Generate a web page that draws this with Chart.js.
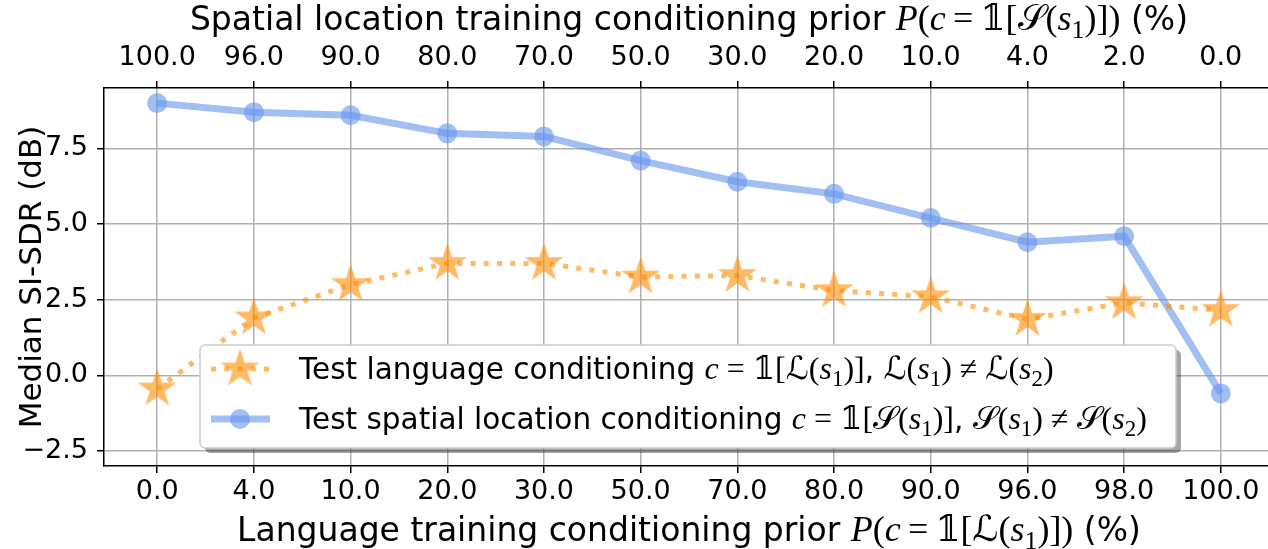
<!DOCTYPE html>
<html>
<head>
<meta charset="utf-8">
<script src="https://cdn.jsdelivr.net/npm/chart.js@4.4.1/dist/chart.umd.min.js"></script>
<style>
html, body { margin: 0; padding: 0; background: #fff; overflow: hidden; }
canvas { display: block; }
</style>
</head>
<body>
<canvas id="chart" width="1274" height="549"></canvas>
<script>
// training priors (bottom axis: language, top axis: spatial location)
const bottomLabels = ['0.0', '4.0', '10.0', '20.0', '30.0', '50.0', '70.0', '80.0', '90.0', '96.0', '98.0', '100.0']
const topLabels = ['100.0', '96.0', '90.0', '80.0', '70.0', '50.0', '30.0', '20.0', '10.0', '4.0', '2.0', '0.0']
// median SI-SDR (dB)
const langSdr = [-0.45, 1.9, 3.0, 3.7, 3.7, 3.25, 3.3, 2.8, 2.6, 1.85, 2.4, 2.15]
const spatialSdr = [9.0, 8.7, 8.6, 8.0, 7.9, 7.1, 6.4, 6.0, 5.2, 4.4, 4.6, -0.6]
const yTicks = [-2.5, 0, 2.5, 5, 7.5]

const orange = 'rgba(255, 140, 0, 0.6)'
const blue = 'rgba(100, 149, 237, 0.6)'
const sans = "'DejaVu Sans'"
const serif = "'Liberation Serif', 'DejaVu Serif', 'DejaVu Sans'"

Chart.defaults.font.family = sans
Chart.defaults.color = '#000'

// pieces of mixed text: plain sans, italic math, upright math, subscript
function txt(t, s){ return {t: t, font: s + 'px ' + sans, dy: 0} }
function it(t, s){ return {t: t, font: 'italic ' + Math.round(s*1.1) + 'px ' + serif, dy: 0} }
function up(t, s){ return {t: t, font: Math.round(s*1.1) + 'px ' + serif, dy: 0} }
function sub(t, s){ return {t: t, font: Math.round(s*0.78) + 'px ' + serif, dy: s*0.25} }
function setOf(letter, idx, s){
    return [up(letter, s), up('(', s), it('s', s), sub(idx, s), up(')', s)]
}
function indicator(letter, s){
    return [up('𝟙', s), up('[', s)].concat(setOf(letter, '1', s), [up(']', s)])
}
function prior(letter, s){
    return [it('P', s), up('(', s), it('c', s), up('\u2009=\u2009', s)].concat(indicator(letter, s), [up(')', s)])
}

const titleSize = 33
const topTitle = [txt('Spatial location training conditioning prior ', titleSize)].concat(prior('𝒮', titleSize), [txt(' (%)', titleSize)])
const bottomTitle = [txt('Language training conditioning prior ', titleSize)].concat(prior('ℒ', titleSize), [txt(' (%)', titleSize)])

const legSize = 29.5
const legendRows = [
    [txt('Test language conditioning ', legSize), it('c', legSize), up(' = ', legSize)]
        .concat(indicator('ℒ', legSize), [txt(', ', legSize)], setOf('ℒ', '1', legSize), [up(' ≠ ', legSize)], setOf('ℒ', '2', legSize)),
    [txt('Test spatial location conditioning ', legSize), it('c', legSize), up(' = ', legSize)]
        .concat(indicator('𝒮', legSize), [txt(', ', legSize)], setOf('𝒮', '1', legSize), [up(' ≠ ', legSize)], setOf('𝒮', '2', legSize))
]

function drawRich(ctx, segs, x, y, centered){
    ctx.save()
    ctx.textBaseline = 'alphabetic'
    ctx.textAlign = 'left'
    ctx.fillStyle = '#000'
    let w = 0
    for(const s of segs){ ctx.font = s.font; w += ctx.measureText(s.t).width }
    let cx = centered ? x - w/2 : x
    for(const s of segs){
        ctx.font = s.font
        ctx.fillText(s.t, cx, y + s.dy)
        cx += ctx.measureText(s.t).width
    }
    ctx.restore()
}

function makeStar(r, color){
    const c = document.createElement('canvas')
    c.width = c.height = Math.ceil(2*r + 2)
    const g = c.getContext('2d')
    const m = c.width/2
    g.beginPath()
    for(let k = 0; k < 10; k++){
        const rad = k%2 ? r*0.381966 : r
        const a = -Math.PI/2 + k*Math.PI/5
        g.lineTo(m + rad*Math.cos(a), m + rad*Math.sin(a))
    }
    g.closePath()
    g.fillStyle = color
    g.fill()
    return c
}
const star = makeStar(20.5, orange)

function roundRect(ctx, x, y, w, h, r){
    ctx.beginPath()
    ctx.moveTo(x + r, y)
    ctx.arcTo(x + w, y, x + w, y + h, r)
    ctx.arcTo(x + w, y + h, x, y + h, r)
    ctx.arcTo(x, y + h, x, y, r)
    ctx.arcTo(x, y, x + w, y, r)
    ctx.closePath()
}

const decorations = {
    id: 'decorations',
    afterDraw(chart){
        const ctx = chart.ctx
        const area = chart.chartArea
        const cx = (area.left + area.right)/2
        drawRich(ctx, topTitle, cx, 30, true)
        drawRich(ctx, bottomTitle, cx, 541, true)

        // legend
        const lx = 200, ly = 345, lw = 976, lh = 103
        ctx.save()
        ctx.fillStyle = 'rgba(0, 0, 0, 0.35)'
        roundRect(ctx, lx + 5, ly + 5, lw, lh, 5)
        ctx.fill()
        ctx.fillStyle = '#ffffff'
        roundRect(ctx, lx, ly, lw, lh, 5)
        ctx.fill()
        ctx.strokeStyle = '#cccccc'
        ctx.lineWidth = 1.5
        ctx.stroke()

        const rows = [369, 419]
        // row 1: dotted line + star
        ctx.strokeStyle = orange
        ctx.lineWidth = 5
        ctx.setLineDash([5, 8.25])
        ctx.beginPath(); ctx.moveTo(211, rows[0]); ctx.lineTo(270, rows[0]); ctx.stroke()
        ctx.setLineDash([])
        ctx.drawImage(star, 240 - star.width/2, rows[0] - star.height/2)
        // row 2: solid line + circle
        ctx.strokeStyle = blue
        ctx.lineWidth = 7
        ctx.beginPath(); ctx.moveTo(211, rows[1]); ctx.lineTo(270, rows[1]); ctx.stroke()
        ctx.fillStyle = blue
        ctx.beginPath(); ctx.arc(240, rows[1], 10, 0, 2*Math.PI); ctx.fill()
        ctx.restore()

        legendRows.forEach((r, i) => drawRich(ctx, r, 299, rows[i] + 10, false))
    }
}

const tickFont = {family: 'DejaVu Sans', size: 27}
const gridStyle = {color: '#b0b0b0', lineWidth: 1.5, tickLength: 7, tickColor: '#000', tickWidth: 1.5}
const borderStyle = {color: '#000', width: 1.5}
// fixed axis boxes so the plot area sits where the reference has it
function fitBox(w, h){
    return s => {
        if(w !== null) s.width = w
        if(h !== null) s.height = h
        s.paddingLeft = 0; s.paddingRight = 0; s.paddingTop = 0; s.paddingBottom = 0
    }
}

const ctx = document.getElementById('chart').getContext('2d')
const myChart = new Chart(ctx, {
    type: 'line',
    data: {
        datasets: [
            {
                label: 'Test language conditioning',
                data: langSdr.map((v, i) => ({x: i, y: v})),
                borderColor: orange,
                borderWidth: 5,
                borderDash: [5, 8.25],
                borderCapStyle: 'butt',
                pointStyle: star,
                pointRadius: 20,
                pointHoverRadius: 20,
                pointBackgroundColor: orange,
                tension: 0
            },
            {
                label: 'Test spatial location conditioning',
                data: spatialSdr.map((v, i) => ({x: i, y: v})),
                borderColor: blue,
                borderWidth: 7,
                pointStyle: 'circle',
                pointRadius: 10,
                pointHoverRadius: 10,
                pointBackgroundColor: blue,
                pointBorderColor: 'rgba(0,0,0,0)',
                pointBorderWidth: 0,
                tension: 0
            }
        ]
    },
    options: {
        responsive: false,
        animation: false,
        events: [],
        layout: {autoPadding: false, padding: {top: 41, bottom: 41, left: 0, right: 0}},
        plugins: {legend: {display: false}, tooltip: {enabled: false}},
        scales: {
            x: {
                type: 'linear',
                position: 'bottom',
                min: -0.55,
                max: 11.55,
                afterBuildTicks: s => { s.ticks = bottomLabels.map((l, i) => ({value: i})) },
                afterFit: fitBox(null, 42),
                ticks: {callback: v => bottomLabels[v], font: tickFont, color: '#000', padding: 3, maxRotation: 0, autoSkip: false},
                grid: gridStyle,
                border: borderStyle
            },
            x2: {
                type: 'linear',
                position: 'top',
                min: -0.55,
                max: 11.55,
                afterBuildTicks: s => { s.ticks = topLabels.map((l, i) => ({value: i})) },
                afterFit: fitBox(null, 47),
                ticks: {callback: v => topLabels[v], font: tickFont, color: '#000', padding: 7, maxRotation: 0, autoSkip: false},
                grid: Object.assign({}, gridStyle, {drawOnChartArea: false}),
                border: borderStyle
            },
            y: {
                type: 'linear',
                min: -3,
                max: 9.5,
                afterBuildTicks: s => { s.ticks = yTicks.map(v => ({value: v})) },
                afterFit: fitBox(104, null),
                ticks: {callback: v => v.toFixed(1).replace('-', '−'), font: tickFont, color: '#000', padding: 9},
                grid: gridStyle,
                border: borderStyle,
                title: {
                    display: true,
                    text: 'Median SI-SDR (dB)',
                    font: {family: 'DejaVu Sans', size: 31},
                    color: '#000',
                    padding: {top: 14, bottom: 0}
                }
            }
        }
    },
    plugins: [decorations]
})
</script>
</body>
</html>
